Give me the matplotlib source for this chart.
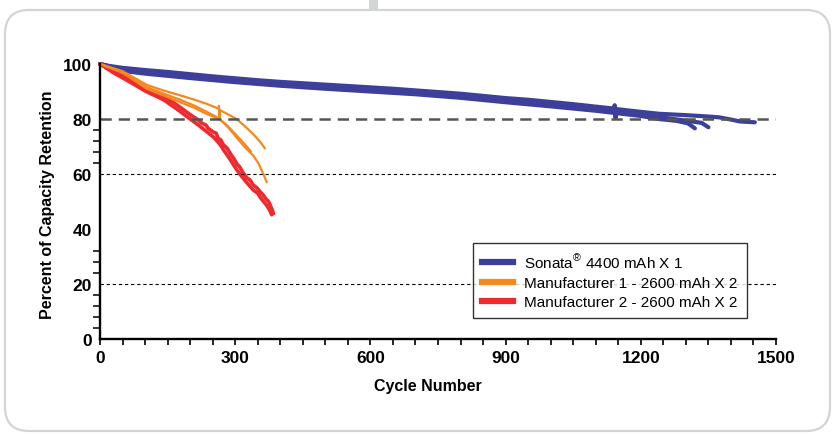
import matplotlib
matplotlib.use("Agg")
import matplotlib.pyplot as plt
from matplotlib.lines import Line2D
from matplotlib.patches import FancyBboxPatch, Rectangle
from matplotlib.transforms import IdentityTransform
from matplotlib import font_manager

# ---------------- data ----------------
blue1_cycles = [0, 20, 50, 100, 150, 200, 250, 300, 350, 400, 450, 500, 550, 600, 650, 700, 750,
                800, 850, 900, 950, 1000, 1050, 1100, 1140, 1142, 1144, 1146, 1200, 1240, 1300,
                1350, 1374, 1400, 1420, 1453]
blue1_values = [100, 99.3, 98.6, 97.8, 97.1, 96.3, 95.5, 94.8, 94.1, 93.5, 93.0, 92.5, 92.0, 91.5,
                91.0, 90.4, 89.8, 89.2, 88.4, 87.6, 87.0, 86.2, 85.4, 84.5, 83.8, 85.0, 80.4, 83.6,
                82.6, 81.9, 81.4, 80.9, 80.6, 79.8, 79.1, 78.8]

blue2_cycles = [0, 50, 100, 200, 300, 400, 500, 600, 700, 800, 900, 1000, 1100, 1200, 1240, 1280,
                1305, 1320]
blue2_values = [100, 97.5, 96.5, 94.9, 93.4, 92.1, 91.0, 90.0, 89.0, 87.7, 86.1, 84.6, 83.0, 81.1,
                80.0, 79.3, 78.4, 76.6]

blue3_cycles = [0, 50, 100, 200, 300, 400, 500, 600, 700, 800, 900, 1000, 1100, 1200, 1250, 1300,
                1335, 1350]
blue3_values = [100, 98.0, 97.1, 95.6, 94.1, 92.8, 91.8, 90.7, 89.8, 88.4, 86.8, 85.3, 83.7, 81.8,
                80.5, 79.4, 78.6, 77.0]

orange1_cycles = [0, 50, 104, 140, 178, 210, 237, 255, 262, 264, 265, 266, 270, 290, 303, 320, 340,
                  355, 366]
orange1_values = [100, 97.4, 92.4, 90.4, 88.6, 87.0, 85.5, 84.3, 83.8, 84.8, 80.0, 83.3, 82.9, 81.2,
                  80.0, 77.6, 74.5, 71.8, 69.3]

orange2_cycles = [0, 50, 104, 140, 178, 210, 237, 266, 285, 303, 320, 340, 352, 359, 365, 370]
orange2_values = [100, 96.8, 91.0, 88.6, 86.1, 84.0, 81.8, 80.0, 76.8, 73.3, 70.0, 66.7, 63.8, 61.2,
                  59.0, 57.0]

orange3_cycles = [0, 50, 104, 140, 178, 210, 237, 260, 280, 300, 320, 335]
orange3_values = [100, 97.1, 91.6, 89.3, 87.0, 84.8, 82.6, 80.6, 78.0, 74.6, 71.0, 68.2]

red1_cycles = [0, 30, 67, 100, 141, 170, 200, 215, 225, 235, 240, 252, 258, 262, 268, 274, 282,
               290, 297, 304, 310, 316, 326, 333, 340, 348, 356, 362, 368, 374, 378, 382, 385]
red1_values = [100, 97.4, 94.3, 91.4, 88.3, 85.2, 81.6, 80.0, 78.6, 77.8, 76.6, 75.2, 74.8, 73.0,
               72.4, 70.6, 69.4, 67.2, 65.6, 63.6, 62.6, 60.8, 58.6, 57.8, 56.0, 55.0, 53.4, 52.4,
               51.0, 50.0, 48.6, 47.0, 45.6]

red2_cycles = [0, 30, 67, 100, 141, 170, 200, 220, 232, 240, 252, 262, 268, 274, 290, 296, 304,
               316, 326, 340, 350, 356, 368, 376, 381]
red2_values = [100, 96.8, 93.4, 90.2, 87.0, 83.7, 80.0, 77.6, 76.0, 75.0, 73.4, 71.6, 70.4, 68.8,
               65.0, 63.4, 61.4, 58.8, 56.8, 54.2, 53.0, 51.4, 49.0, 47.0, 45.2]

legend_labels = [r"Sonata$^{\circledR}$ 4400 mAh X 1",
                 "Manufacturer 1 - 2600 mAh X 2",
                 "Manufacturer 2 - 2600 mAh X 2"]

x_major = [0, 300, 600, 900, 1200, 1500]
x_minor = list(range(0, 1501, 50))
y_major = [0, 20, 40, 60, 80, 100]
y_minor = [4, 8, 12, 16, 24, 28, 32, 64, 68, 72, 76]

BLUE = "#3d409b"
ORANGE = "#f7871f"
RED = "#ee2a2f"

# ---------------- fonts ----------------
names = {f.name for f in font_manager.fontManager.ttflist}
main_font = "Liberation Sans Narrow" if "Liberation Sans Narrow" in names else "Liberation Sans"
plt.rcParams["font.family"] = [main_font, "DejaVu Sans"]
plt.rcParams["mathtext.fontset"] = "custom"
plt.rcParams["mathtext.rm"] = main_font

# ---------------- figure ----------------
W, H = 833, 435
fig = plt.figure(figsize=(W / 100, H / 100), dpi=100)
fig.patch.set_facecolor("white")

frame = FancyBboxPatch((5, 3), 825, 421, boxstyle="round,pad=0,rounding_size=24",
                       transform=IdentityTransform(), edgecolor="#d2d5d5", facecolor="none",
                       lw=1.6)
fig.patches.append(frame)
stub = Rectangle((369, 424), 9, 12, transform=IdentityTransform(), facecolor="#d3d6d6",
                 edgecolor="none")
fig.patches.append(stub)

ax = fig.add_axes([100 / W, (H - 340) / H, 676 / W, 275 / H])
ax.set_xlim(0, 1500)
ax.set_ylim(0, 100)
ax.set_facecolor("none")

for c, v in [(blue2_cycles, blue2_values), (blue3_cycles, blue3_values), (blue1_cycles, blue1_values)]:
    ax.plot(c, v, color=BLUE, lw=3.0, solid_capstyle="round", solid_joinstyle="round",
            clip_on=False, zorder=3)
for c, v in [(red1_cycles, red1_values), (red2_cycles, red2_values)]:
    ax.plot(c, v, color=RED, lw=2.6, solid_capstyle="round", solid_joinstyle="round",
            clip_on=False, zorder=3)
for c, v in [(orange1_cycles, orange1_values), (orange2_cycles, orange2_values),
             (orange3_cycles, orange3_values)]:
    ax.plot(c, v, color=ORANGE, lw=1.6, solid_capstyle="round", solid_joinstyle="round",
            clip_on=False, zorder=4)

ax.axhline(80, color="#555555", lw=1.8, dashes=(4.5, 2.8), zorder=5)
for yv in (60, 20):
    ax.axhline(yv, color="black", lw=0.8, dashes=(3, 2.5), zorder=5)

for s in ("top", "right"):
    ax.spines[s].set_visible(False)
for s in ("left", "bottom"):
    ax.spines[s].set_linewidth(1.7)
    ax.spines[s].set_color("black")
    ax.spines[s].set_zorder(6)

ax.set_xticks(x_major)
ax.set_xticks(x_minor, minor=True)
ax.set_yticks(y_major)
ax.set_yticks(y_minor, minor=True)
ax.tick_params(axis="x", which="both", direction="out", length=4.5, width=1.2, color="black")
ax.tick_params(axis="x", which="major", pad=3.5, labelsize=12.5)
ax.tick_params(axis="y", which="major", length=0, pad=6, labelsize=12.5)
ax.tick_params(axis="y", which="minor", direction="out", length=5, width=1.1, color="black")
for lab in ax.get_xticklabels() + ax.get_yticklabels():
    lab.set_fontweight("bold")

fig.text(48 / W, 1 - 205 / H, "Percent of Capacity Retention", rotation=90, ha="center",
         va="center", fontsize=11.5, fontweight="bold")
fig.text(428 / W, 1 - 387 / H, "Cycle Number", ha="center", va="center", fontsize=11.5,
         fontweight="bold")

handles = [Line2D([], [], color=BLUE, lw=4.5),
           Line2D([], [], color=ORANGE, lw=4.5),
           Line2D([], [], color=RED, lw=4.5)]
leg = ax.legend(handles, legend_labels, loc="upper left",
                bbox_to_anchor=(473 / W, 1 - 244 / H), bbox_transform=fig.transFigure,
                borderaxespad=0, frameon=True, fancybox=False, prop={"size": 11},
                handlelength=2.0, handletextpad=0.75, labelspacing=0.35, borderpad=0.6)
leg.get_frame().set_edgecolor("black")
leg.get_frame().set_linewidth(1.0)
leg.set_zorder(10)

fig.savefig("out.png", dpi=100, facecolor="white")
